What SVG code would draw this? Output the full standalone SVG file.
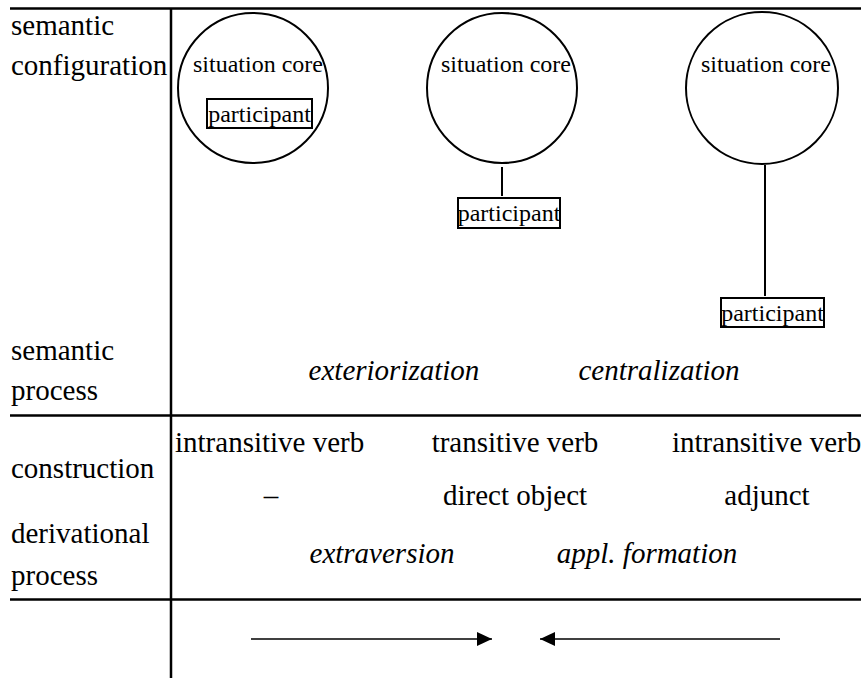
<svg xmlns="http://www.w3.org/2000/svg" width="861" height="678" viewBox="0 0 861 678">
<defs>
<style>
.rule{stroke:#000;stroke-width:2.5;fill:none}
.core{stroke:#000;stroke-width:2;fill:#fff}
.box{stroke:#000;stroke-width:2;fill:#fff}
.conn{stroke:#000;stroke-width:2;fill:none}
.arr{stroke:#000;stroke-width:1.6;fill:none}
</style>
<marker id="ah" viewBox="0 0 15 14" refX="15" refY="7" markerWidth="15" markerHeight="14" markerUnits="userSpaceOnUse" orient="auto">
<path d="M0,0 L15,7 L0,14 Z" fill="#000"/>
</marker>
</defs>
<rect width="861" height="678" fill="#fff"/>
<g id="grid">
<line class="rule" x1="10" y1="8.5" x2="861" y2="8.5"/>
<line class="rule" x1="10" y1="415.5" x2="861" y2="415.5"/>
<line class="rule" x1="10" y1="599.5" x2="861" y2="599.5"/>
<line class="rule" x1="171" y1="8" x2="171" y2="678"/>
</g>
<g id="labels">
<text font-family="Liberation Serif" font-size="29" x="11" y="35">semantic</text>
<text font-family="Liberation Serif" font-size="29" x="11" y="75">configuration</text>
<text font-family="Liberation Serif" font-size="29" x="11" y="360">semantic</text>
<text font-family="Liberation Serif" font-size="29" x="11" y="400">process</text>
<text font-family="Liberation Serif" font-size="29" x="11" y="478">construction</text>
<text font-family="Liberation Serif" font-size="29" x="11" y="543">derivational</text>
<text font-family="Liberation Serif" font-size="29" x="11" y="585">process</text>
</g>
<g id="connectors">
<line class="conn" x1="502" y1="167" x2="502" y2="196"/>
<line class="conn" x1="765" y1="165" x2="765" y2="296"/>
<line class="arr" x1="251" y1="639" x2="492" y2="639" marker-end="url(#ah)"/>
<line class="arr" x1="780" y1="639" x2="540" y2="639" marker-end="url(#ah)"/>
</g>
<g id="core1">
<circle class="core" cx="253" cy="88" r="75"/>
<text font-family="Liberation Serif" font-size="24" text-anchor="middle" x="258" y="72">situation core</text>
</g>
<g id="participant1">
<rect class="box" x="207" y="99" width="105" height="29"/>
<text font-family="Liberation Serif" font-size="24" text-anchor="middle" x="259.5" y="122">participant</text>
</g>
<g id="core2">
<circle class="core" cx="502" cy="88" r="75"/>
<text font-family="Liberation Serif" font-size="24" text-anchor="middle" x="506" y="72">situation core</text>
</g>
<g id="participant2">
<rect class="box" x="458" y="198" width="102" height="30"/>
<text font-family="Liberation Serif" font-size="24" text-anchor="middle" x="509" y="221">participant</text>
</g>
<g id="core3">
<circle class="core" cx="762" cy="88" r="76"/>
<text font-family="Liberation Serif" font-size="24" text-anchor="middle" x="766" y="72">situation core</text>
</g>
<g id="participant3">
<rect class="box" x="721" y="298" width="103" height="29"/>
<text font-family="Liberation Serif" font-size="24" text-anchor="middle" x="772.5" y="321">participant</text>
</g>
<g id="processes">
<text font-family="Liberation Serif" font-size="29" font-style="italic" text-anchor="middle" x="394" y="380">exteriorization</text>
<text font-family="Liberation Serif" font-size="29" font-style="italic" text-anchor="middle" x="659" y="380">centralization</text>
<text font-family="Liberation Serif" font-size="29" font-style="italic" text-anchor="middle" x="382" y="563">extraversion</text>
<text font-family="Liberation Serif" font-size="29" font-style="italic" text-anchor="middle" x="647" y="563">appl. formation</text>
</g>
<g id="construction">
<text font-family="Liberation Serif" font-size="29" x="175" y="452">intransitive verb</text>
<text font-family="Liberation Serif" font-size="29" text-anchor="middle" x="515" y="452">transitive verb</text>
<text font-family="Liberation Serif" font-size="29" x="672" y="452">intransitive verb</text>
<text font-family="Liberation Serif" font-size="29" text-anchor="middle" x="271" y="505">–</text>
<text font-family="Liberation Serif" font-size="29" text-anchor="middle" x="515" y="505">direct object</text>
<text font-family="Liberation Serif" font-size="29" text-anchor="middle" x="767" y="505">adjunct</text>
</g>
</svg>
